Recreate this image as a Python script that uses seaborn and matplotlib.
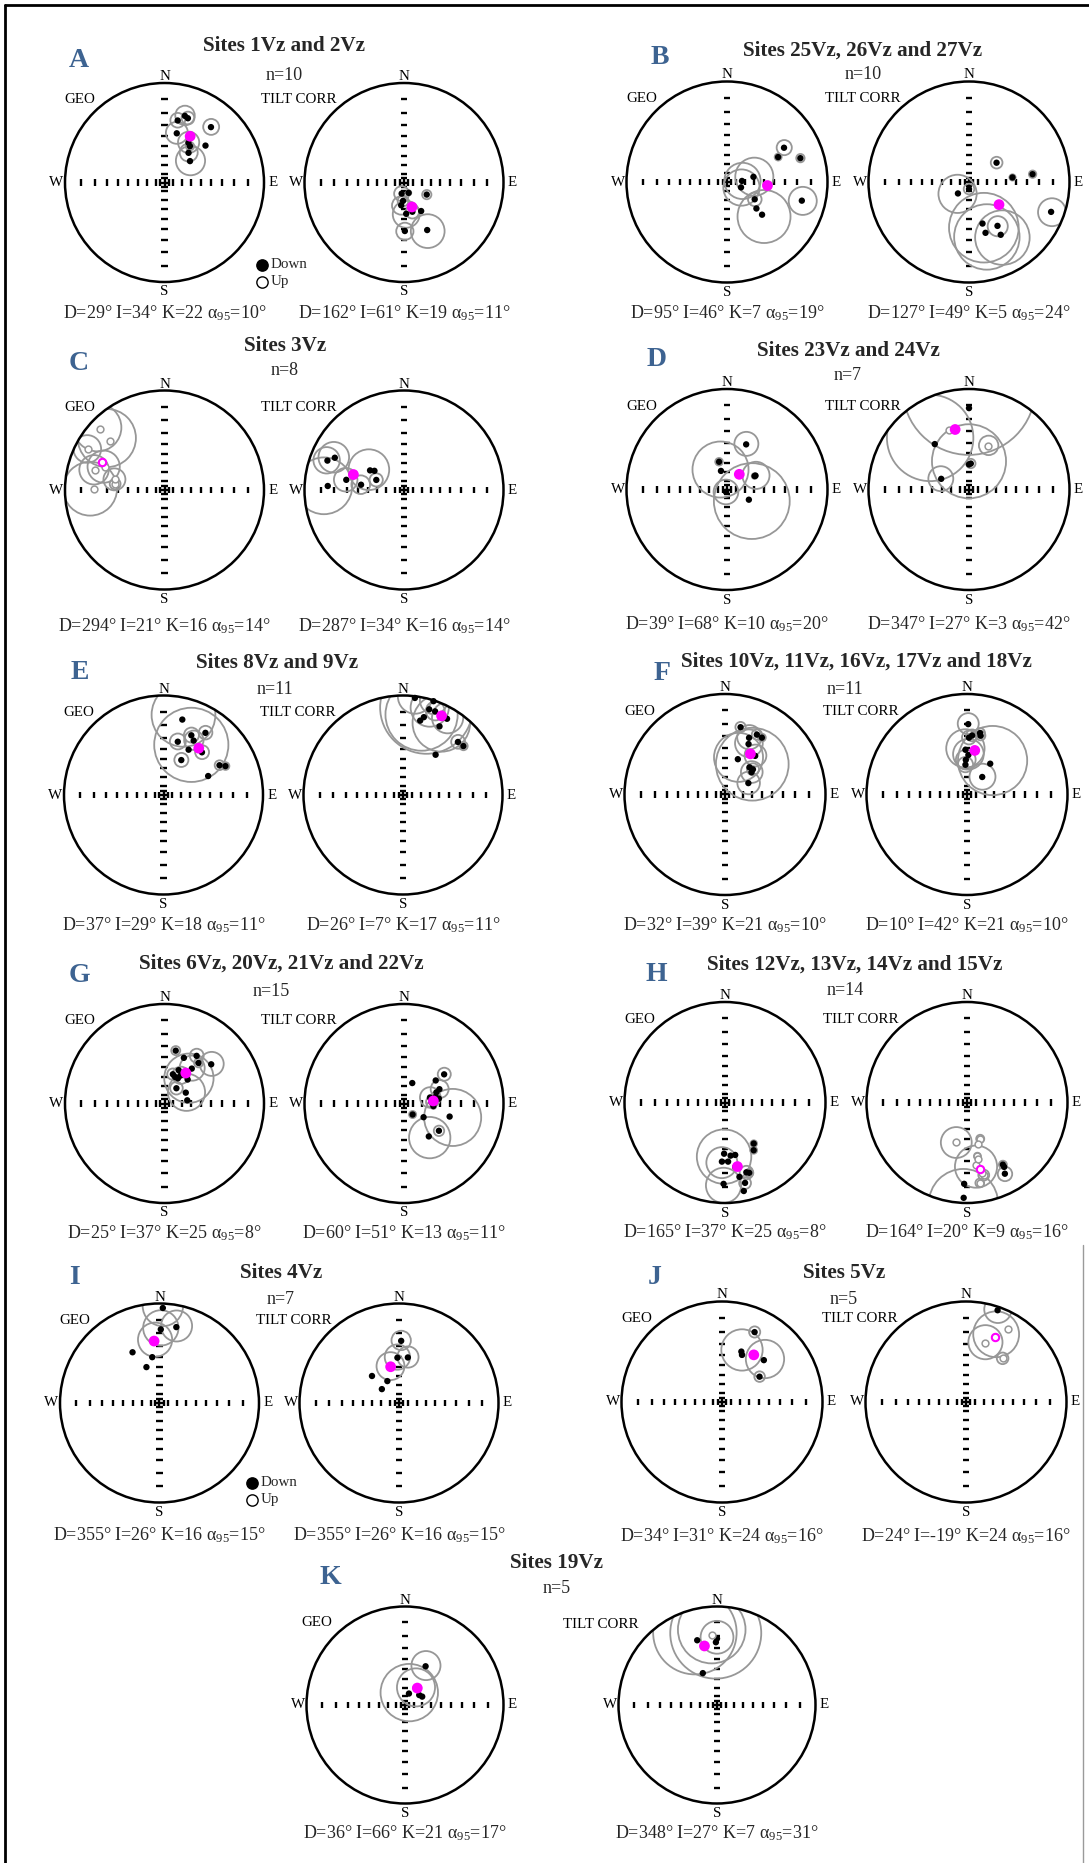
"""
Site-mean directions of the Vz sites on Wulff (equal-angle) stereonets,
geographic (GEO) and tilt-corrected (TILT CORR) coordinates, with a95 cones.
"""

import numpy as np
import matplotlib
matplotlib.use("Agg")
import matplotlib.pyplot as plt
from matplotlib.patches import Circle
from matplotlib.lines import Line2D
import seaborn as sns

# ── Panel text ────────────────────────────────────────────────────────
PANEL_LETTERS = ["A", "B", "C", "D", "E", "F", "G", "H", "I", "J", "K"]
PANEL_TITLES = [
    "Sites 1Vz and 2Vz",
    "Sites 25Vz, 26Vz and 27Vz",
    "Sites 3Vz",
    "Sites 23Vz and 24Vz",
    "Sites 8Vz and 9Vz",
    "Sites 10Vz, 11Vz, 16Vz, 17Vz and 18Vz",
    "Sites 6Vz, 20Vz, 21Vz and 22Vz",
    "Sites 12Vz, 13Vz, 14Vz and 15Vz",
    "Sites 4Vz",
    "Sites 5Vz",
    "Sites 19Vz",
]
PANEL_N = [10, 10, 8, 7, 11, 11, 15, 14, 7, 5, 5]

# ── Site means: (dec, inc, a95); negative inc = upward (open symbol) ──
A_GEO = [(17, 20, 7.5), (20, 21, 5), (12, 25, 6), (40, 18, 6), (14, 36, 10),
         (31, 40, 10), (35, 42, 4), (48, 32, 0), (39, 48, 9), (50, 53, 15)]
A_TILT = [(192, 77, 8.5), (156, 77, 3), (118, 61, 5), (187, 64, 10), (183, 69, 6),
          (176, 55, 14), (164, 56, 7), (149, 53, 0), (179, 38, 8), (154, 34, 15)]
B_GEO = [(59, 23, 6), (64, 31, 3), (72, 15, 3), (86, 73, 20), (79, 60, 20),
         (111, 73, 20), (122, 54, 7), (132, 47, 0), (133, 39, 24), (104, 15, 10)]
B_TILT = [(55, 53, 6), (84, 43, 3), (83, 25, 3), (224, 72, 21), (180, 82, 6),
          (162, 43, 32), (147, 35, 9), (162, 34, 28), (149, 27, 22), (110, 8, 9)]
C_GEO = [(313, -6.5, 15), (312, -17, 21), (298, -8, 9), (286, -18, 11),
         (277, -37, 5), (271, -19, 20), (291, -24.5, 13), (282, -36, 10)]
C_TILT = [(291, 11, 9), (295, 15, 11), (280, 29, 10), (277, 43, 9),
          (300, 47, 20), (303, 51, 0), (290, 57, 7), (273, 15, 20)]
D_GEO = [(23, 38, 11), (344, 58, 4), (342, 68, 30), (64, 55, 14),
         (203, 87, 14), (115, 63, 39), (64, 56, 3)]
D_TILT = [(0, 12, 40), (341, -26, 0), (323, 31, 35), (4, 61, 5),
          (24, -39, 9), (291, 57, 13), (0, 62, 38)]
E_GEO = [(14, 14, 22), (25, 23, 6), (34, 16, 5), (15, 32, 7), (29, 26, 8), (29, 35, 32),
         (27, 47, 7), (42, 30, 6), (62, 25, 4), (65, 21, 3), (67, 38, 0)]
E_TILT = [(7, 1, 10), (18, 0.5, 8), (17, 6, 12), (21, 6, 6), (13, 15, 25), (28, 14, 20),
          (46, 15, 5), (51, 14, 3), (39, 35, 0), (15, 12, 30), (30, 7, 10)]
F_GEO = [(13, 21, 4), (23, 27, 10), (28, 22, 4), (33, 22, 3), (25, 32, 12), (38, 38, 10),
         (20, 49, 24), (42, 50, 35), (48, 49, 6), (50, 52, 11), (64, 61, 12)]
F_TILT = [(1, 20, 8), (5, 29, 5), (12, 26, 4), (13, 28, 4), (358, 42, 18), (358, 52, 10),
          (357, 57, 8), (37, 48, 33), (41, 64, 14), (2, 31, 6), (2, 47, 15)]
G_GEO = [(12, 33, 4), (23, 37, 0), (34, 30, 6), (40, 34, 4), (50, 27, 10),
         (23, 50, 0), (30, 54, 9), (22, 58, 3), (28, 58, 0), (44, 53, 25),
         (38, 68, 7), (63, 63, 20), (82, 64, 0), (16, 56, 6), (38, 42, 12)]
G_TILT = [(22, 65, 0), (54, 37, 6), (54, 47, 0), (68, 48, 9), (77, 60, 11),
          (78, 54, 5), (82, 51, 0), (87, 59, 6), (142, 74, 4), (125, 63, 0),
          (106, 39, 26), (128, 42, 5), (143, 45, 20), (71, 52, 0), (95, 57, 3)]
H_GEO = [(145, 37, 3), (149, 32, 3), (181, 36, 24), (174, 34, 0), (169, 34, 0),
         (183, 29, 13), (177, 29, 0), (171, 24, 0), (163, 18, 5), (161, 17, 3),
         (169, 16, 0), (166, 11, 4), (181, 12, 12), (168, 6, 0)]
H_TILT = [(195, -46, 15), (160, -48, 4), (169, -33, 3), (167, -17, 4), (171, -12, 3),
          (150, 19, 3), (152, 12.5, 5), (182, 12, 0), (172, -26, 17), (182, 3, 20),
          (169, -30, 0), (150, 17, 0), (168, -19, 0), (165, -44, 0)]
I_GEO = [(12.5, 14, 11), (1, 17, 13), (2, 2.6, 12), (332, 30, 0),
         (351, 40, 0), (356, 26, 14), (340, 48, 0)]
I_TILT = [(2, 26, 8), (358, 41, 12), (11, 40, 10), (347, 49, 14),
          (315, 48, 0), (332, 62, 0), (309, 65, 0)]
J_GEO = [(25, 15, 4), (21, 33.5, 18), (23, 36, 2), (45, 29, 16), (56, 41.5, 5)]
J_TILT = [(19, 2, 8), (30, -10, 0), (18, -27, 14), (40, -31, 5), (24, -19, 17)]
K_GEO = [(28, 42, 14), (19, 76, 32), (55, 70, 0), (64, 68, 0), (32, 67, 21)]
K_TILT = [(356, -19, 25), (359, 25, 35), (343, 21, 31), (336, 51, 0), (0, 22, 13)]

# plotted Fisher mean per net (GEO, TILT for A..K)
MEAN_DEC = [29, 162, 95, 127, 294, 287, 39, 347, 37, 26, 32, 10,
            35, 85, 169, 169, 355, 347, 34, 24, 36, 348]
MEAN_INC = [34, 61, 46, 49, -21, 34, 68, 27, 29, 7, 39, 42,
            49, 57, 24, -22, 26, 49, 31, -19, 66, 27]

# statistics printed under each net
STAT_D = [29, 162, 95, 127, 294, 287, 39, 347, 37, 26, 32, 10,
          25, 60, 165, 164, 355, 355, 34, 24, 36, 348]
STAT_I = [34, 61, 46, 49, 21, 34, 68, 27, 29, 7, 39, 42,
          37, 51, 37, 20, 26, 26, 31, -19, 66, 27]
STAT_K = [22, 19, 7, 5, 16, 16, 10, 3, 18, 17, 21, 21,
          25, 13, 25, 9, 16, 16, 24, 24, 21, 7]
STAT_A95 = [10, 11, 19, 24, 14, 14, 20, 42, 11, 11, 10, 10,
            8, 11, 8, 16, 15, 15, 16, 16, 17, 31]

NETS = [A_GEO, A_TILT, B_GEO, B_TILT, C_GEO, C_TILT, D_GEO, D_TILT,
        E_GEO, E_TILT, F_GEO, F_TILT, G_GEO, G_TILT, H_GEO, H_TILT,
        I_GEO, I_TILT, J_GEO, J_TILT, K_GEO, K_TILT]

# ── Layout (pixels) ───────────────────────────────────────────────────
W, H = 1089, 1863
# geo_cx, tilt_cx, cy, R, title_x, title_y, n_x, n_y, letter_x, letter_y, stats_y
LAYOUT = {
    "A": (164.5, 404.0, 182.5, 99.5, 284.0, 46.0, 284.0, 75.0, 79.0, 60.5, 313.5),
    "B": (727.0, 969.0, 182.0, 100.5, 863.0, 50.5, 863.0, 74.5, 660.0, 58.0, 313.5),
    "C": (164.5, 404.0, 490.0, 99.5, 285.0, 346.0, 285.0, 370.5, 78.5, 363.0, 626.0),
    "D": (727.0, 969.0, 489.5, 100.5, 848.0, 351.5, 848.0, 376.0, 657.0, 359.5, 624.5),
    "E": (163.5, 403.0, 795.0, 99.5, 276.8, 663.5, 275.0, 690.0, 80.0, 672.5, 925.0),
    "F": (725.0, 967.0, 794.5, 100.5, 856.0, 662.0, 845.0, 690.0, 662.0, 673.5, 925.0),
    "G": (164.5, 404.0, 1103.5, 99.5, 281.0, 964.0, 271.0, 991.0, 79.0, 975.5, 1233.0),
    "H": (725.0, 967.0, 1102.5, 100.5, 855.0, 964.5, 845.0, 990.5, 656.0, 974.5, 1232.5),
    "I": (159.5, 399.0, 1403.0, 99.5, 281.0, 1273.0, 281.0, 1299.5, 74.0, 1277.0, 1535.5),
    "J": (722.0, 966.0, 1402.0, 100.5, 844.0, 1273.5, 844.0, 1299.5, 655.0, 1277.5, 1536.0),
    "K": (405.0, 717.0, 1705.0, 98.5, 557.0, 1563.0, 557.0, 1588.5, 330.0, 1578.0, 1833.5),
}
GEO_LABEL_POS = {"K": (-0.90, 0.84)}
TILT_LABEL_POS = {"K": (-1.18, 0.82)}
LEGEND_POS = {"A": (0.983, -0.828), "I": (0.93, -0.80)}

GREY = "#979797"
MAGENTA = "#ff00ff"
LETTER_BLUE = "#3d6391"
TICK_ANGLES = [2.5, 5, 10, 15, 20, 25, 30, 35, 40]   # half-angles -> 5°..80°
TICK_H = 0.032
HALF = 1.6


def project(dec, inc):
    """Wulff projection of a direction (upper-hemisphere points use |inc|)."""
    r = np.tan(np.radians(90 - abs(inc)) / 2)
    d = np.radians(dec)
    return r * np.sin(d), r * np.cos(d)


def cone(dec, inc, a95):
    """Projected a95 small circle: centre and radius in net units."""
    p = 90 - abs(inc)
    r1 = np.tan(np.radians(p - a95) / 2)
    r2 = np.tan(np.radians(p + a95) / 2)
    c, rad = (r1 + r2) / 2, (r2 - r1) / 2
    d = np.radians(dec)
    return (c * np.sin(d), c * np.cos(d)), rad


def fx(x):
    return x / W


def fy(y):
    return 1 - y / H


sns.set_theme(style="white")
plt.rcParams["font.family"] = ["Liberation Serif", "DejaVu Serif"]
plt.rcParams["mathtext.fontset"] = "custom"
plt.rcParams["mathtext.rm"] = "Liberation Serif"
plt.rcParams["mathtext.it"] = "Liberation Serif:italic"
plt.rcParams["mathtext.bf"] = "Liberation Serif:bold"

fig = plt.figure(figsize=(W / 100, H / 100), dpi=100)
fig.patch.set_facecolor("white")


def draw_net(cx, cy, rad_px, sites, mean_dec, mean_inc, label, label_pos):
    ax = fig.add_axes([fx(cx - HALF * rad_px), fy(cy + HALF * rad_px),
                       2 * HALF * rad_px / W, 2 * HALF * rad_px / H])
    ax.set_xlim(-HALF, HALF)
    ax.set_ylim(-HALF, HALF)
    ax.axis("off")

    prim = Circle((0, 0), 1, fill=False, ec="black", lw=1.8, zorder=5)
    ax.add_patch(prim)

    # axis ticks every 10° of inclination
    tick_kw = dict(color="black", lw=1.7, solid_capstyle="butt", zorder=2)
    for k in TICK_ANGLES:
        r = np.tan(np.radians(k))
        for s in (-1, 1):
            ax.plot([-TICK_H, TICK_H], [s * r, s * r], **tick_kw)
            ax.plot([s * r, s * r], [-TICK_H, TICK_H], **tick_kw)
    ax.plot([-TICK_H, TICK_H], [0, 0], **tick_kw)
    ax.plot([0, 0], [-TICK_H, TICK_H], **tick_kw)

    # a95 cones
    for dec, inc, a95 in sites:
        if a95 <= 0:
            continue
        centre, rad = cone(dec, inc, a95)
        c = Circle(centre, rad, fill=False, ec=GREY, lw=1.3, zorder=3)
        ax.add_patch(c)
        c.set_clip_path(prim)

    xy = np.array([project(d, i) for d, i, _ in sites])
    down = np.array([i >= 0 for _, i, _ in sites])
    if down.any():
        sns.scatterplot(x=xy[down, 0], y=xy[down, 1], ax=ax, color="black",
                        s=21, edgecolor="none", zorder=6, legend=False)
    if (~down).any():
        sns.scatterplot(x=xy[~down, 0], y=xy[~down, 1], ax=ax, color="white",
                        edgecolor=GREY, linewidth=1.1, s=24, zorder=6, legend=False)

    mx, my = project(mean_dec, mean_inc)
    if mean_inc >= 0:
        sns.scatterplot(x=[mx], y=[my], ax=ax, color=MAGENTA, s=60,
                        edgecolor="none", zorder=7, legend=False)
    else:
        sns.scatterplot(x=[mx], y=[my], ax=ax, color="white", edgecolor=MAGENTA,
                        linewidth=1.5, s=28, zorder=7, legend=False)

    lab_kw = dict(fontsize=10.8, ha="center", va="center", color="black")
    ax.text(0, 1.065, "N", **lab_kw)
    ax.text(0, -1.10, "S", **lab_kw)
    ax.text(-1.087, 0, "W", **lab_kw)
    ax.text(1.087, 0, "E", **lab_kw)
    ax.text(label_pos[0], label_pos[1], label, **lab_kw)
    return ax


for p, letter in enumerate(PANEL_LETTERS):
    geo_cx, tilt_cx, cy, rad_px, tx, ty, nx, ny, lx, ly, sy = LAYOUT[letter]
    gi, ti = 2 * p, 2 * p + 1

    ax_geo = draw_net(geo_cx, cy, rad_px, NETS[gi], MEAN_DEC[gi], MEAN_INC[gi],
                      "GEO", GEO_LABEL_POS.get(letter, (-0.85, 0.83)))
    draw_net(tilt_cx, cy, rad_px, NETS[ti], MEAN_DEC[ti], MEAN_INC[ti],
             "TILT CORR", TILT_LABEL_POS.get(letter, (-1.06, 0.83)))

    fig.text(fx(tx), fy(ty), PANEL_TITLES[p], fontsize=15.2, fontweight="bold",
             ha="center", va="center")
    fig.text(fx(nx), fy(ny), f"n={PANEL_N[p]}", fontsize=13, ha="center", va="center")
    fig.text(fx(lx), fy(ly), letter, fontsize=20, fontweight="bold",
             color=LETTER_BLUE, ha="center", va="center")

    for idx, cx in ((gi, geo_cx), (ti, tilt_cx)):
        stat = (f"D={STAT_D[idx]}° I={STAT_I[idx]}° K={STAT_K[idx]} "
                f"α$_{{95}}$={STAT_A95[idx]}°")
        fig.text(fx(cx), fy(sy), stat, fontsize=13, ha="center", va="center")

    if letter in LEGEND_POS:
        lx0, ly0 = LEGEND_POS[letter]
        ax_geo.scatter([lx0], [ly0], s=66, color="black", zorder=8)
        ax_geo.scatter([lx0], [ly0 - 0.172], s=66, facecolor="white",
                       edgecolor="black", linewidth=1.0, zorder=8)
        ax_geo.text(lx0 + 0.085, ly0, "Down", fontsize=10.8, ha="left", va="center")
        ax_geo.text(lx0 + 0.085, ly0 - 0.172, "Up", fontsize=10.8, ha="left", va="center")

# ── Frame ─────────────────────────────────────────────────────────────
fig.add_artist(Line2D([fx(5), fx(W)], [fy(5), fy(5)], color="black", lw=2.0))
fig.add_artist(Line2D([fx(5), fx(5)], [fy(5), fy(H)], color="black", lw=2.0))
fig.add_artist(Line2D([fx(1083), fx(1083)], [fy(1245), fy(H)], color="#9a9a9a", lw=1.0))

fig.savefig("out.png", dpi=100, facecolor="white")
plt.close(fig)
